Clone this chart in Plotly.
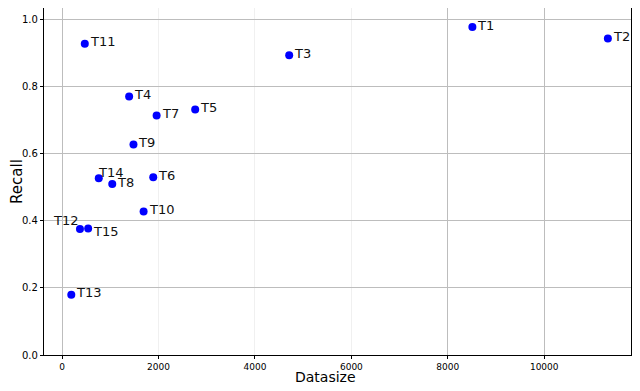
import plotly.graph_objects as go

# Datasize vs recall per task
labels = ["T1", "T2", "T3", "T4", "T5", "T6", "T7", "T8", "T9", "T10",
          "T11", "T12", "T13", "T14", "T15"]
datasize = [8510, 11320, 4710, 1390, 2760, 1890, 1960, 1040, 1480, 1690,
            470, 370, 190, 760, 540]
recall = [0.978, 0.944, 0.894, 0.771, 0.732, 0.530, 0.714, 0.510, 0.628, 0.428,
          0.928, 0.376, 0.180, 0.527, 0.377]
x_ticks = [0, 2000, 4000, 6000, 8000, 10000]
y_ticks = [0, 0.2, 0.4, 0.6, 0.8, 1.0]

# label placement tweaks (pixels): xanchor, xshift, yshift
label_pos = {"T12": ("right", 0, 8), "T14": ("left", -3, 6), "T15": ("left", 3, -3)}

fig = go.Figure()
fig.add_trace(go.Scatter(x=datasize, y=recall, mode="markers",
                         marker=dict(color="#0000ff", size=8), showlegend=False))
# invisible copy so the overlay axis (darker vertical grid) gets drawn
fig.add_trace(go.Scatter(x=datasize, y=recall, xaxis="x2", mode="markers",
                         marker=dict(opacity=0), hoverinfo="skip", showlegend=False))

for lab, x, y in zip(labels, datasize, recall):
    anchor, dx, dy = label_pos.get(lab, ("left", 3, 2))
    fig.add_annotation(x=x, y=y, text=lab, showarrow=False, xanchor=anchor, yanchor="middle",
                       xshift=dx, yshift=dy, font=dict(size=13, color="#111111"))

# x axis title as an annotation so it sits clear of the tick labels
fig.add_annotation(x=0.48, y=0, xref="paper", yref="paper", text="Datasize", showarrow=False,
                   xanchor="center", yanchor="top", yshift=-12, font=dict(size=14))

# page body adds an 8px offset, so the figure is a bit smaller than the window
fig.update_layout(
    width=624, height=375,
    margin=dict(l=36, r=1, t=0, b=28, autoexpand=False),
    plot_bgcolor="white", paper_bgcolor="white",
    font=dict(family="DejaVu Sans", color="black"),
    xaxis=dict(range=[-376, 11800], tickvals=x_ticks, ticktext=[str(v) for v in x_ticks],
               showgrid=True, gridcolor="#f0f0f0", gridwidth=1, automargin=False,
               showline=True, linecolor="black", linewidth=1.3, mirror=False,
               ticks="outside", ticklen=3, tickcolor="black", tickfont=dict(size=9),
               zeroline=False),
    xaxis2=dict(matches="x", overlaying="x", tickvals=[0, 8000, 10000],
                showticklabels=False, showgrid=True, gridcolor="#bdbdbd", gridwidth=1,
                zeroline=False, showline=False, ticks="", automargin=False),
    yaxis=dict(range=[0, 1.035], tickvals=y_ticks, tickformat=".1f",
               showgrid=True, gridcolor="#bdbdbd", gridwidth=1, automargin=True,
               showline=True, linecolor="black", linewidth=1.3, mirror=True,
               ticks="outside", ticklen=3, tickcolor="black", tickfont=dict(size=10),
               title=dict(text="Recall", font=dict(size=15), standoff=8), zeroline=False),
)

fig.write_html("out.html")
